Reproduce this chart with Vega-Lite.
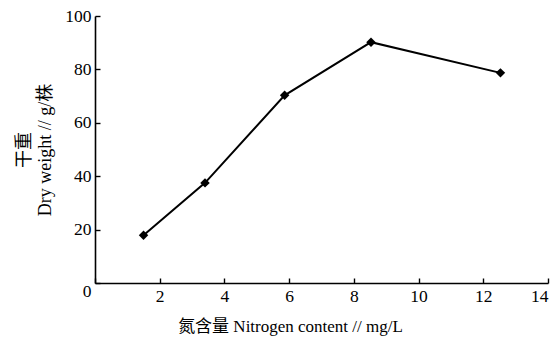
{
  "$schema": "https://vega.github.io/schema/vega-lite/v6.json",
  "width": 453,
  "height": 267,
  "autosize": "none",
  "padding": {"left": 95, "top": 16, "right": 10, "bottom": 59},
  "background": "white",
  "config": {
    "view": {"stroke": null},
    "axis": {
      "domainColor": "black",
      "domainWidth": 1.6,
      "tickColor": "black",
      "tickWidth": 1.4,
      "tickSize": -5,
      "grid": false,
      "labelFont": "Liberation Serif",
      "labelFontSize": 17.5,
      "labelColor": "black",
      "titleFont": "Liberation Serif, Noto Sans CJK SC",
      "titleFontSize": 17,
      "titleFontWeight": "normal",
      "titleColor": "black"
    }
  },
  "data": {
    "values": [
      {"n": 1.5, "w": 17.9},
      {"n": 3.4, "w": 37.5},
      {"n": 5.86, "w": 70.3},
      {"n": 8.53, "w": 90.2},
      {"n": 12.53, "w": 78.7}
    ]
  },
  "encoding": {
    "x": {
      "field": "n",
      "type": "quantitative",
      "scale": {"domain": [0, 14], "nice": false},
      "axis": {
        "values": [0, 2, 4, 6, 8, 10, 12, 14],
        "labelExpr": "datum.value == 0 ? '' : datum.label",
        "labelPadding": 9,
        "title": "氮含量 Nitrogen content // mg/L",
        "titlePadding": 14,
        "titleX": 195,
        "titleAnchor": "start",
        "titleAlign": "center"
      }
    },
    "y": {
      "field": "w",
      "type": "quantitative",
      "scale": {"domain": [0, 100], "nice": false},
      "axis": {
        "values": [0, 20, 40, 60, 80, 100],
        "labelPadding": 9,
        "labelOffset": {"condition": {"test": "datum.value == 0", "value": 8}, "value": 0},
        "title": ["干重", "Dry weight // g/株"],
        "titlePadding": 10,
        "titleLineHeight": 21,
        "titleFontSize": 18
      }
    }
  },
  "layer": [
    {"mark": {"type": "line", "color": "black", "strokeWidth": 2}},
    {"mark": {"type": "point", "shape": "diamond", "filled": true, "color": "black", "opacity": 1, "size": 90}}
  ]
}
